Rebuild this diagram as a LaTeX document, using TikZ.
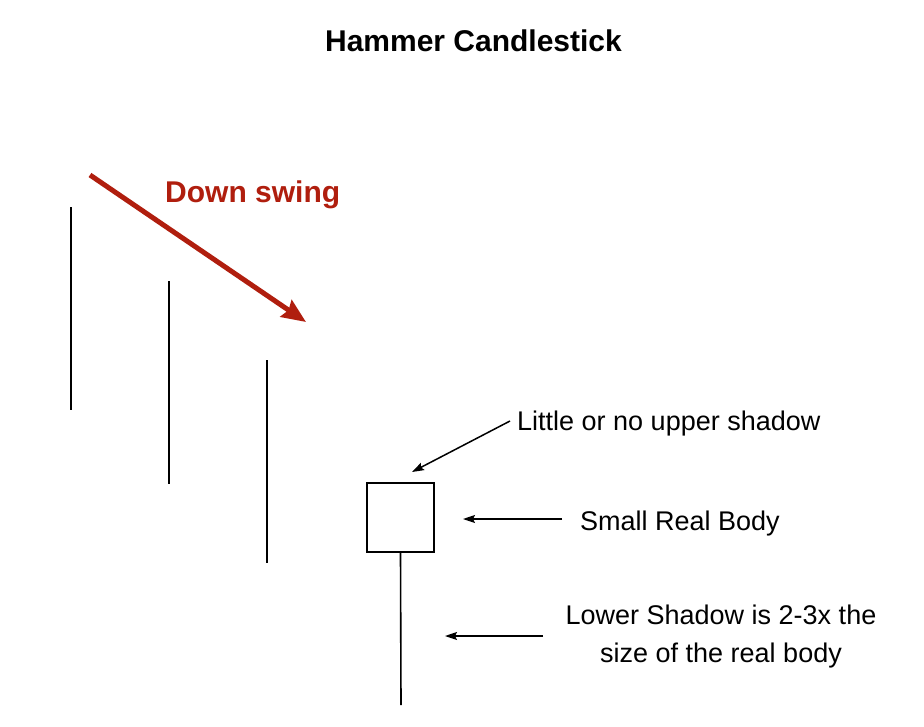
\documentclass[tikz,border=0pt]{standalone}
\usepackage{fontspec}
\setmainfont{Liberation Sans}
\usetikzlibrary{arrows.meta}
\definecolor{swingred}{RGB}{176,30,14}
\begin{document}
\begin{tikzpicture}[x=1pt,y=-1pt,
  lbl/.style={font=\fontsize{27}{38}\selectfont, inner sep=0pt, anchor=base west},
  wickline/.style={line width=1.6pt},
  ptr/.style={line width=1.5pt, -{Stealth[length=12pt,width=8pt,inset=2pt]}},
  swingarrow/.style={line width=5pt, swingred, -{Stealth[length=24pt,width=20pt,inset=3pt]}},
]
\useasboundingbox[fill=white] (0,0) rectangle (924,726);
\node[font=\fontsize{30}{36}\selectfont\bfseries, anchor=base, inner sep=0pt] (title) at (473.5,51.5) {Hammer Candlestick};
\node[font=\fontsize{30}{36}\selectfont\bfseries, text=swingred, anchor=base west, inner sep=0pt] (swing) at (165,202) {Down swing};
\coordinate (rs) at (90,175);
\coordinate (re) at (306,322);
\draw[swingarrow] (rs) -- (re);
% previous candles
\coordinate (c1t) at (71,207); \coordinate (c1b) at (71,410);
\coordinate (c2t) at (169,281); \coordinate (c2b) at (169,484);
\coordinate (c3t) at (267,360); \coordinate (c3b) at (267,563);
\draw[wickline] (c1t) -- (c1b);
\draw[wickline] (c2t) -- (c2b);
\draw[wickline] (c3t) -- (c3b);
% hammer
\node[draw, line width=1.6pt, minimum width=67pt, minimum height=69pt, inner sep=0pt] (body) at (400.5,517.5) {};
\coordinate (wb) at (401,705);
\draw[wickline] (body.south) -- (wb);
% labels
\node[lbl] (upper) at (517,430) {Little or no upper shadow};
\node[lbl] (small) at (580,530) {Small Real Body};
\node[font=\fontsize{27}{38}\selectfont, inner sep=0pt, align=center, anchor=base] (lower) at (721,662) {Lower Shadow is 2-3x the\\size of the real body};
\coordinate (ua) at (510,421); \coordinate (ub) at (412,472);
\coordinate (sa) at (562,519); \coordinate (sb) at (463,519);
\coordinate (la) at (543,636); \coordinate (lb) at (445,636);
\draw[ptr] (ua) -- (ub);
\draw[ptr] (sa) -- (sb);
\draw[ptr] (la) -- (lb);
\end{tikzpicture}
\end{document}
